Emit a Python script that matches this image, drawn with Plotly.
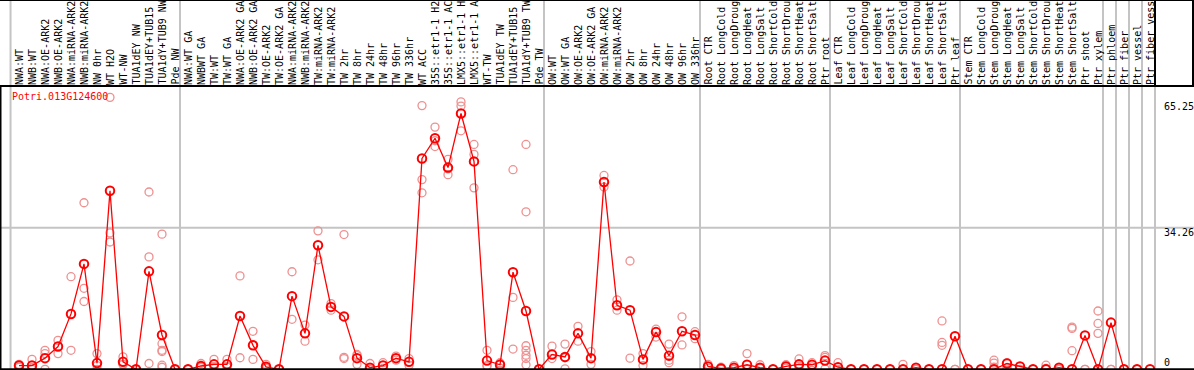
import plotly.graph_objects as go

# ---------------- data ----------------
gene_name = "Potri.013G124600"

categories = [
    "NWA:WT", "NWB:WT", "NWA:OE-ARK2", "NWB:OE-ARK2", "NWA:miRNA-ARK2", "NWB:miRNA-ARK2",
    "NW 0hr", "WT H2O", "WT-NW", "TUA1dEY NW", "TUA1dEY+TUB15", "TUA1dY+TUB9 NW", "Pde NW",
    "NWA:WT GA", "NWBWT GA", "TW:WT", "TW:WT GA", "NWA:OE-ARK2 GA", "NWB:OE-ARK2 GA",
    "TW:OE-ARK2", "TW:OE-ARK2 GA", "NWA:miRNA-ARK2", "NWB:miRNA-ARK2", "TW:miRNA-ARK2",
    "TW:miRNA-ARK2", "TW 2hr", "TW 8hr", "TW 24hr", "TW 48hr", "TW 96hr", "TW 336hr",
    "WT ACC", "35S::etr1-1 H2O", "35S::etr1-1 ACC", "LMX5::etr1-1 H2O", "LMX5::etr1-1 ACC",
    "WT-TW", "TUA1dEY TW", "TUA1dEY+TUB15", "TUA1dY+TUB9 TW", "Pde TW",
    "OW:WT", "OW:WT GA", "OW:OE-ARK2", "OW:OE-ARK2 GA", "OW:miRNA-ARK2", "OW:miRNA-ARK2",
    "OW 2hr", "OW 8hr", "OW 24hr", "OW 48hr", "OW 96hr", "OW 336hr",
    "Root CTR", "Root LongCold", "Root LongDrought", "Root LongHeat", "Root LongSalt",
    "Root ShortCold", "Root ShortDrought", "Root ShortHeat", "Root ShortSalt", "Ptr root",
    "Leaf CTR", "Leaf LongCold", "Leaf LongDrought", "Leaf LongHeat", "Leaf LongSalt",
    "Leaf ShortCold", "Leaf ShortDrought", "Leaf ShortHeat", "Leaf ShortSalt", "Ptr leaf",
    "Stem CTR", "Stem LongCold", "Stem LongDrought", "Stem LongHeat", "Stem LongSalt",
    "Stem ShortCold", "Stem ShortDrought", "Stem ShortHeat", "Stem ShortSalt", "Ptr shoot",
    "Ptr xylem", "Ptr phloem", "Ptr fiber", "Ptr vessel", "Ptr fiber vessel",
]

mean_values = [
    0.9, 0.9, 2.7, 5.5, 13.4, 25.5, 1.5, 43.2, 1.8, 0.0, 23.7, 8.3, 0.0,
    0.0, 0.8, 1.2, 1.2, 12.9, 5.8, 0.6, 0.0, 17.7, 8.7, 30.0, 15.1, 12.8,
    2.7, 0.4, 0.9, 2.7, 1.8, 51.0, 55.9, 48.8, 61.9, 50.3, 2.1, 1.1, 23.5, 14.1, 0.0,
    3.6, 3.0, 8.7, 2.7, 45.3, 15.5, 14.3, 2.4, 9.0, 3.3, 9.2, 8.3,
    0.7, 0.2, 0.4, 1.1, 0.4, 0.0, 0.7, 1.2, 1.1, 2.1,
    0.5, 0.0, 0.0, 0.0, 0.0, 0.0, 0.4, 0.0, 0.0, 8.0,
    0.0, 0.0, 0.0, 1.4, 0.7, 0.0, 0.0, 0.4, 0.0, 8.2, 0.0,
    11.3, 0.0, 0.0, 0.0,
]

replicate_values = [
    [0.9, 1.2, 0.5], [2.4, 0.3, 0.0], [4.6, 3.8, 0.0], [7.0, 3.8], [22.4, 4.6],
    [40.3, 19.6, 16.4], [3.8, 0.9, 0.0], [65.8, 33.0, 30.8], [3.0, 1.2, 1.2], [0.0, 0.0, 0.0],
    [42.9, 27.2, 1.4], [32.7, 6.2, 4.6, 4.3, 1.0, 0.5], [0.0, 0.0, 0.0],
    [0.0, 0.0, 0.0], [1.4, 0.6, 0.4], [2.4, 0.6, 0.6], [2.4, 0.6, 0.6], [22.6, 2.8],
    [9.2, 2.4], [1.2, 0.4, 0.2], [0.0, 0.0, 0.0], [23.6, 12.1], [10.7, 6.8], [33.5, 26.5],
    [14.3, 15.9], [32.6, 2.9, 2.6], [3.3, 1.2, 3.6], [1.4, 0.0, 0.0], [1.6, 0.2],
    [3.2, 2.2], [2.6, 1.0], [63.8, 45.9, 42.7], [58.6, 53.9, 55.3], [50.8, 47.1, 48.5],
    [64.7, 63.7, 57.7], [54.4, 52.0, 43.9], [4.6, 0.9, 0.8], [1.6, 1.4, 0.3],
    [48.3, 17.4, 4.9], [54.4, 38.1, 5.7, 4.6, 3.4, 2.6, 1.1], [0.0, 0.0, 0.0],
    [5.6, 2.6], [6.1, 0.1, 2.8], [10.4, 6.8], [4.3, 1.2], [46.9, 44.1], [16.8, 14.3],
    [26.2, 2.7], [3.8, 0.9], [9.7, 7.8], [6.1, 2.2, 1.6], [12.7, 5.9], [9.1, 7.4],
    [1.2, 0.2], [0.5, 0.0], [0.9, 0.0], [3.8, 0.0, 0.0], [1.1, 0.2], [0.0, 0.0],
    [1.1, 0.3], [2.5, 0.8, 0.3], [1.6, 0.6], [3.3, 0.1, 2.9],
    [1.6, 0.0, 0.0], [0.0, 0.0], [0.0, 0.0], [0.0, 0.0], [0.0, 0.0], [1.2, 0.0, 0.0],
    [0.0, 0.0], [0.0, 0.0], [11.7, 5.8, 6.5],
    [0.0, 0.0], [0.0, 0.0], [0.0, 0.0], [2.2, 1.5, 0.5], [1.6, 0.4, 0.1], [0.0, 0.0],
    [0.0, 0.0], [1.0, 0.2, 0.0], [0.0, 0.0], [9.9, 4.5, 10.2], [0.0, 0.0],
    [14.1, 8.7, 11.1], [0.0, 0.0], [0.0, 0.0], [0.0, 0.0],
]

# boundaries (in category units) of the grey separator lines
group_bounds = [-0.65, 12.385, 40.385, 52.385, 62.385, 72.385, 83.385, 84.385, 85.385, 86.385]
ytick_values = [65.25, 34.26, 0]
ytick_labels = ["65.25", "34.26", "0"]
ytick_shift = [-7, -4.5, 7]

# ---------------- figure ----------------
W, H = 1194, 370
ML, MR, MT, MB = 0, 39, 86, 0
plot_w = W - ML - MR
plot_h = H - MT - MB
px_per_cat = 13.0
x0_px = 19.0
px_per_unit = 4.133
zero_px = 369.3

x_range = [-x0_px / px_per_cat, -x0_px / px_per_cat + plot_w / px_per_cat]
y_range = [-(H - zero_px) / px_per_unit, (zero_px - MT) / px_per_unit]

xs = list(range(len(categories)))
rep_x, rep_y = [], []
for i, reps in enumerate(replicate_values):
    for v in reps:
        rep_x.append(i)
        rep_y.append(v)

MONO = "DejaVu Sans Mono"
fig = go.Figure()
fig.add_trace(go.Scatter(
    x=rep_x, y=rep_y, mode="markers",
    marker=dict(symbol="circle-open", size=8, color="#EE9090", line=dict(width=1.3)),
    hoverinfo="skip", showlegend=False,
))
fig.add_trace(go.Scatter(
    x=xs, y=mean_values, mode="lines+markers", name=gene_name,
    line=dict(color="#FF0000", width=1.3),
    marker=dict(symbol="circle-open", size=8.5, color="#FF0000", line=dict(width=2)),
    showlegend=False,
))

shapes = []
ytop_paper = 1 + MT / plot_h
for b in group_bounds:
    shapes.append(dict(type="line", xref="x", yref="paper", x0=b, x1=b, y0=-0.01, y1=ytop_paper + 0.01,
                       line=dict(color="#C4C4C4", width=2), layer="below"))
# right edge grey line
shapes.append(dict(type="line", xref="paper", yref="paper", x0=1, x1=1, y0=-0.01, y1=ytop_paper,
                   line=dict(color="#C4C4C4", width=2), layer="below"))
# grid line at middle tick
shapes.append(dict(type="line", xref="paper", yref="y", x0=0, x1=W / plot_w, y0=ytick_values[1], y1=ytick_values[1],
                   line=dict(color="#C4C4C4", width=2), layer="below"))
# black frame lines
black = dict(color="#000000", width=2)
shapes += [
    dict(type="line", xref="paper", yref="paper", x0=0, x1=W / plot_w, y0=1, y1=1, line=black),
    dict(type="line", xref="paper", yref="paper", x0=0.5 / plot_w, x1=0.5 / plot_w, y0=-0.01, y1=1, line=black),
    dict(type="line", xref="paper", yref="y", x0=0, x1=W / plot_w, y0=0, y1=0, line=black),
    dict(type="line", xref="paper", yref="paper", x0=0, x1=W / plot_w, y0=ytop_paper, y1=ytop_paper, line=black),
    dict(type="line", xref="paper", yref="paper", x0=1, x1=1, y0=1, y1=ytop_paper, line=black),
    dict(type="line", xref="paper", yref="paper", x0=(W - 1) / plot_w, x1=(W - 1) / plot_w, y0=1, y1=ytop_paper, line=black),
]

annotations = []
for i, lab in enumerate(categories):
    annotations.append(dict(
        x=i, y=1, xref="x", yref="paper", text=lab, textangle=-90,
        xanchor="center", yanchor="bottom", yshift=-1, showarrow=False,
        font=dict(family=MONO, size=10, color="#000000"),
    ))
annotations.append(dict(
    x=10 / plot_w, y=(zero_px - 96) / px_per_unit, xref="paper", yref="y", text=gene_name,
    xanchor="left", yanchor="middle", showarrow=False,
    font=dict(family=MONO, size=10, color="#FF0000"),
))
for v, lab, sh in zip(ytick_values, ytick_labels, ytick_shift):
    annotations.append(dict(
        x=(plot_w + 7) / plot_w, y=v, xref="paper", yref="y", text=lab, yshift=sh,
        xanchor="left", yanchor="middle", showarrow=False,
        font=dict(family=MONO, size=10, color="#000000"),
    ))

fig.update_layout(
    width=W, height=H,
    margin=dict(l=ML, r=MR, t=MT, b=MB, pad=0),
    paper_bgcolor="white", plot_bgcolor="white",
    xaxis=dict(range=x_range, showgrid=False, zeroline=False, showticklabels=False, ticks="", showline=False),
    yaxis=dict(range=y_range, showgrid=False, zeroline=False, showticklabels=False, ticks="", showline=False),
    shapes=shapes, annotations=annotations, showlegend=False,
)

fig.write_html(
    "out.html",
    config={"displayModeBar": False},
    post_script="document.body.style.margin='0';document.body.style.overflow='hidden';",
)
